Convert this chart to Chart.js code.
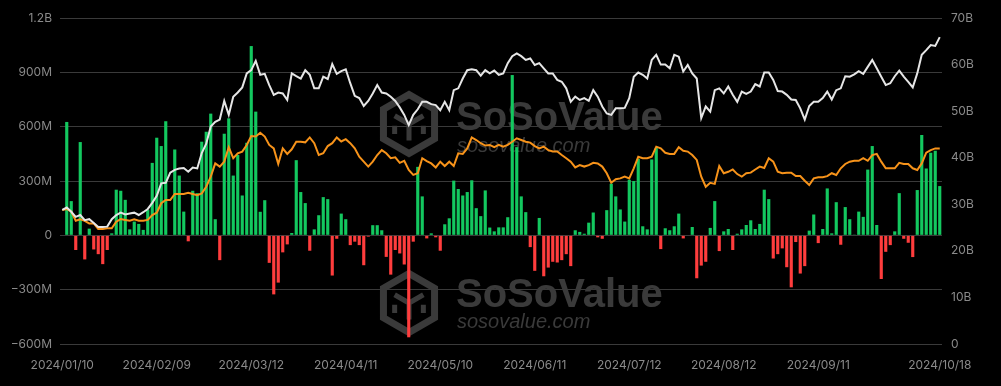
<!DOCTYPE html>
<html>
<head>
<meta charset="utf-8">
<script src="https://cdn.jsdelivr.net/npm/chart.js@4/dist/chart.umd.min.js"></script>
<style>
  html, body { margin: 0; padding: 0; background: #000; }
  #wrap { width: 1001px; height: 386px; position: relative; }
</style>
</head>
<body>
<div id="wrap"><canvas id="flows"></canvas></div>
<script>
// US market holidays skipped on the trading-day axis
const holidays = ['2024/01/15', '2024/02/19', '2024/03/29', '2024/05/27', '2024/06/19', '2024/07/04', '2024/09/02'];

const xTickLabels = ['2024/01/10', '2024/02/09', '2024/03/12', '2024/04/11', '2024/05/10',
  '2024/06/11', '2024/07/12', '2024/08/12', '2024/09/11', '2024/10/18'];

// daily total net inflow, in millions USD
const dailyInflow = [
  0, 626, 189, -81, 515, -133, 37, -78, -104, -159,
  -81, 11, 252, 246, 196, 33, 76, 63, 30, 141,
  400, 539, 493, 630, 0, 474, 330, 131, -33, 246,
  233, 517, 572, 672, 89, -137, 561, 646, 330, 444,
  220, 511, 1045, 683, 130, 194, -152, -326, -261, -94,
  -50, 13, 415, 239, 178, -85, 33, 111, 211, 200,
  -222, -19, 120, 89, -54, -35, -54, -165, -7, 56,
  56, 28, -119, -217, -81, -100, -161, -563, -35, 378,
  215, -17, 11, -11, -85, 61, 94, 302, 256, 220,
  239, 304, 150, 106, 248, 43, 22, 44, 44, 100,
  885, 487, 215, 128, -65, -196, 96, -226, -178, -146,
  -150, -137, -104, -170, 28, 19, 9, 70, 126, -11,
  -19, 139, 285, 215, 143, 76, 307, 300, 422, 50,
  33, 419, 483, -76, 39, 28, 50, 120, -17, 0,
  46, -237, -167, -146, 41, 189, -87, 22, 35, -81,
  9, 33, 57, 83, 35, 63, 252, 200, -128, -104,
  -72, -176, -287, -37, -211, -170, 26, 115, -43, 35,
  259, 11, 183, -52, 156, 89, 4, 131, 102, 363,
  493, 57, -241, -91, -54, 22, 233, -19, -41, -120,
  250, 554, 369, 456, 467, 272
];

// total net assets, in billions USD
const netAssets = [
  28.8, 29.3, 28.4, 27.3, 27.7, 26.6, 26.8, 26.0, 25.1, 25.1,
  25.2, 26.8, 27.7, 28.2, 27.8, 28.0, 28.2, 27.7, 28.3, 29.0,
  30.3, 31.8, 34.5, 34.6, 36.8, 37.4, 37.7, 37.8, 37.0, 37.9,
  37.7, 41.0, 43.0, 46.7, 47.7, 48.2, 52.2, 49.2, 53.1, 54.0,
  55.1, 58.1, 58.8, 60.8, 57.8, 58.0, 55.6, 53.5, 54.0, 53.8,
  52.4, 58.1, 57.5, 57.0, 58.8, 57.8, 54.9, 54.9, 57.4, 56.9,
  60.1, 58.0, 58.6, 59.0, 56.0, 53.3, 52.8, 51.1, 52.2, 53.8,
  55.6, 54.0, 53.8, 53.1, 52.2, 50.8, 49.2, 47.0, 49.2, 50.4,
  52.0, 52.0, 51.5, 51.3, 50.2, 52.0, 50.2, 54.5, 54.9, 57.0,
  58.8, 59.0, 58.8, 57.6, 58.8, 58.1, 58.7, 57.8, 58.1, 60.3,
  61.8, 62.4, 61.8, 61.0, 61.3, 59.9, 60.3, 59.2, 58.1, 58.1,
  56.7, 56.3, 54.9, 52.0, 53.1, 52.4, 52.8, 52.2, 54.5, 53.1,
  51.0, 49.5, 49.2, 50.6, 50.6, 50.7, 52.8, 57.4, 58.3, 57.8,
  57.0, 61.0, 62.1, 60.0, 60.0, 59.2, 62.1, 61.7, 58.5, 59.9,
  58.1, 57.0, 48.5, 51.0, 49.9, 54.5, 54.9, 53.8, 55.3, 53.5,
  52.0, 54.2, 53.7, 54.2, 55.8, 55.3, 58.3, 58.3, 56.7, 54.3,
  54.2, 53.5, 52.5, 52.4, 50.6, 48.2, 51.1, 52.0, 52.0, 52.8,
  54.2, 52.5, 54.5, 54.9, 57.5, 57.4, 57.9, 58.6, 58.0, 59.5,
  61.0, 59.2, 57.4, 55.6, 56.0, 57.5, 58.7, 57.4, 56.3, 55.1,
  58.1, 62.1, 63.1, 64.2, 64.0, 65.9
];

// BTC price, in thousands USD (own hidden axis)
const btcPrice = [
  46.4, 46.8, 45.9, 42.7, 43.2, 42.7, 41.8, 41.8, 39.9, 39.9,
  40.1, 40.1, 42.4, 43.3, 43.0, 42.7, 43.2, 42.7, 42.7, 43.0,
  44.7, 45.5, 48.8, 49.9, 49.9, 52.0, 52.0, 52.0, 52.4, 52.0,
  51.6, 52.2, 54.5, 58.0, 62.6, 61.5, 63.2, 68.2, 64.4, 66.1,
  66.7, 69.0, 72.1, 71.9, 73.2, 71.9, 69.0, 67.8, 62.4, 67.8,
  65.9, 67.5, 70.1, 70.1, 69.9, 71.6, 69.6, 65.5, 66.1, 68.6,
  69.6, 71.6, 70.2, 71.0, 69.6, 67.8, 64.9, 63.2, 61.5, 63.2,
  65.5, 67.2, 66.1, 64.4, 64.7, 62.8, 63.5, 60.3, 58.6, 59.2,
  64.4, 63.4, 62.6, 61.2, 63.2, 61.7, 63.2, 61.7, 66.1, 65.9,
  67.8, 71.6, 70.7, 69.6, 68.8, 69.0, 68.2, 69.0, 68.4, 69.0,
  70.1, 71.3, 70.7, 70.1, 69.8, 68.6, 67.8, 68.4, 67.2, 66.7,
  66.7, 65.5, 64.4, 63.2, 61.2, 62.0, 61.5, 62.0, 62.8, 62.6,
  61.5, 59.2, 55.9, 57.1, 57.4, 58.0, 57.4, 60.9, 64.9, 64.4,
  64.4, 64.9, 68.4, 67.8, 66.3, 65.9, 65.9, 68.2, 67.0, 66.7,
  65.5, 63.8, 58.0, 54.5, 55.9, 55.5, 61.7, 59.2, 59.7, 60.5,
  58.9, 58.0, 59.2, 59.4, 60.5, 61.5, 61.0, 64.4, 63.2, 59.7,
  59.2, 59.4, 59.4, 58.2, 58.2, 56.6, 55.1, 57.4, 57.8, 57.8,
  58.2, 59.2, 58.6, 60.9, 62.4, 63.2, 63.5, 63.5, 64.4, 63.5,
  65.5, 65.9, 63.2, 60.9, 60.9, 60.9, 62.8, 62.4, 62.4, 60.9,
  60.3, 62.6, 66.3, 67.2, 67.8, 67.8
];

function pad(n) { return n < 10 ? '0' + n : '' + n; }

function buildTradingDays(startUtc, endUtc)
{
    let days = [];
    let d = new Date(startUtc);
    while (d.getTime() <= endUtc) {
        let wd = d.getUTCDay();
        let s = d.getUTCFullYear() + '/' + pad(d.getUTCMonth() + 1) + '/' + pad(d.getUTCDate());
        if (wd !== 0 && wd !== 6 && !holidays.includes(s)) days.push(s);
        d.setUTCDate(d.getUTCDate() + 1);
    }
    return days;
}

const tradingDays = buildTradingDays(Date.UTC(2024, 0, 10), Date.UTC(2024, 9, 18));

function fmtLeft(v)
{
    if (v === 0) return '0';
    if (Math.abs(v) >= 1000) return (v < 0 ? '\u2212' : '') + (Math.abs(v) / 1000) + 'B';
    return (v < 0 ? '\u2212' : '') + Math.abs(v) + 'M';
}

const markColor = '#3a3a3a';

function drawLogo(ctx, cx, cy, r)
{
    ctx.save();
    ctx.strokeStyle = markColor;
    ctx.lineJoin = 'miter';
    ctx.lineWidth = 7;
    ctx.beginPath();
    for (let k = 0; k < 6; k++) {
        let a = Math.PI / 2 + k * Math.PI / 3;
        let px = cx + (r - 3.5) * Math.cos(a), py = cy - (r - 3.5) * Math.sin(a);
        if (k === 0) ctx.moveTo(px, py); else ctx.lineTo(px, py);
    }
    ctx.closePath();
    ctx.stroke();
    // inner cube strokes
    ctx.lineWidth = 5;
    let s = r * 0.5;
    ctx.beginPath();
    ctx.moveTo(cx - s * 0.87, cy - s * 0.5);
    ctx.lineTo(cx, cy);
    ctx.lineTo(cx + s * 0.87, cy - s * 0.5);
    ctx.moveTo(cx, cy);
    ctx.lineTo(cx, cy + s);
    ctx.moveTo(cx - s * 0.87, cy + s * 0.1);
    ctx.lineTo(cx - s * 0.87, cy + s * 0.6);
    ctx.moveTo(cx + s * 0.87, cy + s * 0.1);
    ctx.lineTo(cx + s * 0.87, cy + s * 0.6);
    ctx.stroke();
    ctx.restore();
}

const watermark = {
    id: 'watermark',
    beforeDatasetsDraw(chart) {
        const ctx = chart.ctx;
        [[124, 130, 152], [303, 307, 328]].forEach(m => {
            drawLogo(ctx, 409, m[0], 33);
            ctx.save();
            ctx.fillStyle = markColor;
            ctx.textAlign = 'left';
            ctx.textBaseline = 'alphabetic';
            ctx.font = 'bold 40px "Liberation Sans", Arial, sans-serif';
            ctx.fillText('SoSoValue', 456, m[1]);
            ctx.font = 'italic 20px "Liberation Sans", Arial, sans-serif';
            ctx.fillText('sosovalue.com', 457, m[2]);
            ctx.restore();
        });
    }
};

const tickFont = { family: 'Inter, "Liberation Sans", sans-serif', size: 12 };
const tickColor = '#8a8a8a';

new Chart(document.getElementById('flows'), {
    type: 'bar',
    data: {
        labels: tradingDays,
        datasets: [
            {
                type: 'line',
                label: 'Total Net Assets',
                data: netAssets,
                yAxisID: 'y1',
                borderColor: '#e6e6e6',
                borderWidth: 2,
                pointRadius: 0,
                tension: 0,
                order: 1
            },
            {
                type: 'line',
                label: 'BTC Price',
                data: btcPrice,
                yAxisID: 'yPrice',
                borderColor: '#f7931a',
                borderWidth: 2,
                pointRadius: 0,
                tension: 0,
                order: 2
            },
            {
                type: 'bar',
                label: 'Daily Total Net Inflow',
                data: dailyInflow,
                yAxisID: 'y',
                backgroundColor: dailyInflow.map(v => v >= 0 ? '#13c85f' : '#ff3d3d'),
                barPercentage: 0.7,
                categoryPercentage: 1,
                order: 3
            }
        ]
    },
    options: {
        responsive: true,
        maintainAspectRatio: false,
        animation: false,
        layout: { padding: { top: 18, left: 0, right: 0, bottom: 0 } },
        plugins: {
            legend: { display: false },
            tooltip: { enabled: false }
        },
        scales: {
            x: {
                offset: true,
                grid: { display: false },
                border: { display: false },
                ticks: {
                    autoSkip: false,
                    maxRotation: 0,
                    minRotation: 0,
                    padding: 6,
                    color: tickColor,
                    font: tickFont,
                    callback: function (value) {
                        let l = this.getLabelForValue(value);
                        return xTickLabels.includes(l) ? l : '';
                    }
                },
                afterFit(scale) { scale.height = 42; }
            },
            y: {
                position: 'left',
                min: -600,
                max: 1200,
                grid: { color: '#3a3a3a', lineWidth: 1, drawTicks: false },
                border: { display: false },
                ticks: {
                    stepSize: 300,
                    padding: 8,
                    color: tickColor,
                    font: tickFont,
                    callback: v => fmtLeft(v)
                },
                afterFit(scale) { scale.width = 60; }
            },
            y1: {
                position: 'right',
                min: 0,
                max: 70,
                grid: { display: false, drawTicks: false },
                border: { display: false },
                ticks: {
                    stepSize: 10,
                    padding: 9,
                    color: tickColor,
                    font: tickFont,
                    callback: v => v === 0 ? '0' : v + 'B'
                },
                afterFit(scale) { scale.width = 59; }
            },
            yPrice: {
                display: false,
                min: 0,
                max: 113
            }
        }
    },
    plugins: [watermark]
});
</script>
</body>
</html>
